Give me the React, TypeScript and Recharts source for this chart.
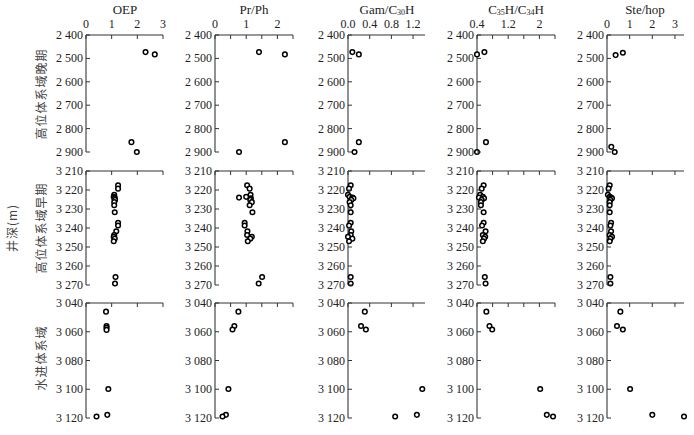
import { Scatter, ScatterChart, XAxis, YAxis } from "recharts";

// depths (m) per system tract
const depthsLate = [2473, 2483, 2858, 2900];
const depthsLateSte = [2476, 2486, 2878, 2900];
const depthsEarly = [
  3217.5, 3219.3, 3222.5, 3223.6, 3224.0, 3224.4, 3225.2, 3226.4, 3228.0, 3231.7,
  3237.2, 3238.7, 3241.7, 3243.7, 3244.6, 3245.6, 3247.0, 3265.8, 3269.2,
];
const depthsTst = [3046, 3056, 3058.4, 3099.8, 3117.8, 3119];
const depthsTstOep = [3046, 3056, 3057.3, 3058.7, 3099.8, 3117.8, 3119];

// OEP
const oepLate = [2.32, 2.68, 1.77, 1.98];
const oepEarly = [1.25, 1.25, 1.1, 1.08, 1.12, 1.1, 1.13, 1.1, 1.1, 1.12, 1.25, 1.25, 1.18, 1.1, 1.08, 1.12, 1.08, 1.15, 1.13];
const oepTst = [0.78, 0.8, 0.8, 0.8, 0.87, 0.83, 0.41];

// Pr/Ph
const prphLate = [1.41, 2.24, 2.24, 0.77];
const prphEarly = [1.03, 1.11, 1.14, 1.0, 0.77, 1.15, 1.13, 1.18, 1.11, 1.2, 0.95, 0.95, 1.04, 1.03, 1.18, 1.13, 1.05, 1.51, 1.4];
const prphTst = [0.75, 0.62, 0.56, 0.43, 0.35, 0.24];

// Gam/C30H
const gamLate = [0.08, 0.2, 0.2, 0.12];
const gamEarly = [0.05, 0.02, 0.0, 0.03, 0.08, 0.1, 0.06, 0.03, 0.05, 0.05, 0.05, 0.02, 0.06, 0.05, 0.0, 0.08, 0.02, 0.05, 0.05];
const gamTst = [0.31, 0.24, 0.33, 1.37, 1.27, 0.87];

// C35H/C34H
const c35Late = [0.59, 0.4, 0.63, 0.4];
const c35Early = [0.57, 0.52, 0.48, 0.55, 0.45, 0.58, 0.52, 0.5, 0.5, 0.57, 0.57, 0.53, 0.62, 0.55, 0.61, 0.58, 0.55, 0.6, 0.62];
const c35Tst = [0.64, 0.72, 0.79, 2.02, 2.19, 2.35];

// Ste/hop
const steLate = [0.7, 0.38, 0.19, 0.34];
const steEarly = [0.12, 0.07, 0.04, 0.12, 0.18, 0.22, 0.15, 0.12, 0.12, 0.12, 0.18, 0.15, 0.18, 0.12, 0.22, 0.15, 0.12, 0.15, 0.15];
const steTst = [0.59, 0.44, 0.7, 1.02, 2.0, 3.4];

// axis ticks
const depthTicksLate = [2400, 2500, 2600, 2700, 2800, 2900];
const depthTicksEarly = [3210, 3220, 3230, 3240, 3250, 3260, 3270];
const depthTicksTst = [3040, 3060, 3080, 3100, 3120];

const oepTicks = [0, 1, 2, 3];
const prphTicks = [0, 0.5, 1, 1.5, 2, 2.5];
const gamTicks = [0, 0.4, 0.8, 1.2];
const c35Ticks = [0.4, 0.8, 1.2, 1.6, 2.0, 2.4];
const steTicks = [0, 1, 2, 3];

const oepLabels: Record<number, string> = { 0: "0", 1: "1", 2: "2", 3: "3" };
const prphLabels: Record<number, string> = { 0: "0", 1: "1", 2: "2" };
const gamLabels: Record<number, string> = { 0: "0.0", 0.4: "0.4", 0.8: "0.8", 1.2: "1.2" };
const c35Labels: Record<number, string> = { 0.4: "0.4", 1.2: "1.2", 2: "2" };
const steLabels: Record<number, string> = { 0: "0", 1: "1", 2: "2", 3: "3" };

const SERIF = "'Liberation Serif', 'DejaVu Serif', serif";
const CJK = "'Noto Sans CJK SC', sans-serif";
const INK = "#222";

const pairs = (depths: number[], vals: number[]) =>
  depths.map((d, i) => ({ d, v: vals[i] }));

const fmtDepth = (v: number) =>
  `${Math.floor(v / 1000)} ${String(v % 1000).padStart(3, "0")}`;

const Ring = (props: any) => {
  const { cx, cy } = props;
  if (cx == null || cy == null) return null;
  return <circle cx={cx} cy={cy} r={2.3} fill="#fff" stroke="#000" strokeWidth={1.5} />;
};

interface PanelProps {
  left: number;
  top: number;
  width: number;
  height: number;
  xDomain: [number, number];
  xTicks: number[];
  xLabels?: Record<number, string>;
  yDomain: [number, number];
  yTicks: number[];
  data: { d: number; v: number }[];
}

function Panel(p: PanelProps) {
  const YW = 60;
  const XH = 24;
  const w = YW + p.width + 8;
  const h = XH + p.height + 10;

  const TopTick = (t: any) => {
    const label = p.xLabels ? p.xLabels[t.payload.value] : undefined;
    return (
      <g>
        <line x1={t.x} x2={t.x} y1={t.y} y2={t.y + 4} stroke="#333" strokeWidth={1} />
        {label !== undefined && (
          <text x={t.x} y={t.y - 7} textAnchor="middle" fontSize={12} fontFamily={SERIF} fill={INK}>
            {label}
          </text>
        )}
      </g>
    );
  };

  const LeftTick = (t: any) => (
    <g>
      <line x1={t.x} x2={t.x + 4} y1={t.y} y2={t.y} stroke="#333" strokeWidth={1} />
      <text x={t.x - 3} y={t.y + 4} textAnchor="end" fontSize={12} fontFamily={SERIF} fill={INK}>
        {fmtDepth(t.payload.value)}
      </text>
    </g>
  );

  return (
    <div style={{ position: "absolute", left: p.left - YW, top: p.top - XH }}>
      <ScatterChart width={w} height={h} margin={{ top: 0, right: 8, bottom: 10, left: 0 }}>
        <XAxis
          type="number"
          dataKey="v"
          orientation="top"
          height={XH}
          domain={p.xDomain}
          ticks={p.xTicks}
          interval={0}
          tickSize={0}
          tickMargin={0}
          tickLine={false}
          axisLine={{ stroke: "#333", strokeWidth: 1.2 }}
          tick={TopTick}
        />
        <YAxis
          type="number"
          dataKey="d"
          width={YW}
          reversed
          domain={p.yDomain}
          ticks={p.yTicks}
          interval={0}
          tickSize={0}
          tickMargin={0}
          tickLine={false}
          axisLine={{ stroke: "#555", strokeWidth: 1.3 }}
          tick={LeftTick}
        />
        <Scatter data={p.data} shape={Ring} isAnimationActive={false} />
      </ScatterChart>
    </div>
  );
}

const cols = [
  { left: 86, width: 77, domain: [0, 3] as [number, number], ticks: oepTicks, labels: oepLabels },
  { left: 215, width: 78, domain: [0, 2.5] as [number, number], ticks: prphTicks, labels: prphLabels },
  { left: 348, width: 77, domain: [0, 1.42] as [number, number], ticks: gamTicks, labels: gamLabels },
  { left: 477, width: 78, domain: [0.4, 2.4] as [number, number], ticks: c35Ticks, labels: c35Labels },
  { left: 607, width: 77, domain: [0, 3.4] as [number, number], ticks: steTicks, labels: steLabels },
];

const rows = [
  { top: 35, height: 117, domain: [2400, 2900] as [number, number], ticks: depthTicksLate },
  { top: 171, height: 114, domain: [3210, 3270] as [number, number], ticks: depthTicksEarly },
  { top: 303, height: 115, domain: [3040, 3120] as [number, number], ticks: depthTicksTst },
];

const panelData = [
  [pairs(depthsLate, oepLate), pairs(depthsLate, prphLate), pairs(depthsLate, gamLate), pairs(depthsLate, c35Late), pairs(depthsLateSte, steLate)],
  [pairs(depthsEarly, oepEarly), pairs(depthsEarly, prphEarly), pairs(depthsEarly, gamEarly), pairs(depthsEarly, c35Early), pairs(depthsEarly, steEarly)],
  [pairs(depthsTstOep, oepTst), pairs(depthsTst, prphTst), pairs(depthsTst, gamTst), pairs(depthsTst, c35Tst), pairs(depthsTst, steTst)],
];

const sub = (s: string) => (
  <tspan fontSize={8} dy={1}>{s}</tspan>
);

export default function App() {
  const titleStyle = { fontSize: 13, fontFamily: SERIF, fill: INK } as const;
  return (
    <div style={{ position: "absolute", left: 0, top: 0, width: 694, height: 435, background: "#fff" }}>
      {rows.map((r, ri) =>
        cols.map((c, ci) => (
          <Panel
            key={`${ri}-${ci}`}
            left={c.left}
            top={r.top}
            width={c.width}
            height={r.height}
            xDomain={c.domain}
            xTicks={c.ticks}
            xLabels={ri === 0 ? c.labels : undefined}
            yDomain={r.domain}
            yTicks={r.ticks}
            data={panelData[ri][ci]}
          />
        ))
      )}
      <svg width={694} height={435} style={{ position: "absolute", left: 0, top: 0, pointerEvents: "none" }}>
        <text x={125} y={14} textAnchor="middle" {...titleStyle}>OEP</text>
        <text x={254} y={14} textAnchor="middle" {...titleStyle}>Pr/Ph</text>
        <text x={387} y={14} textAnchor="middle" {...titleStyle}>
          Gam/C{sub("30")}<tspan dy={-1}>H</tspan>
        </text>
        <text x={516} y={14} textAnchor="middle" {...titleStyle}>
          C{sub("35")}<tspan dy={-1}>H/C</tspan>{sub("34")}<tspan dy={-1}>H</tspan>
        </text>
        <text x={645} y={14} textAnchor="middle" {...titleStyle}>Ste/hop</text>

        <g fontFamily={CJK} fontSize={12} fill="#444" letterSpacing={1}>
          <text transform="translate(46 94) rotate(-90)" textAnchor="middle">高位体系域晚期</text>
          <text transform="translate(46 228) rotate(-90)" textAnchor="middle">高位体系域早期</text>
          <text transform="translate(46 358) rotate(-90)" textAnchor="middle">水进体系域</text>
          <text transform="translate(17 228) rotate(-90)" textAnchor="middle">井深(m)</text>
        </g>
      </svg>
    </div>
  );
}
